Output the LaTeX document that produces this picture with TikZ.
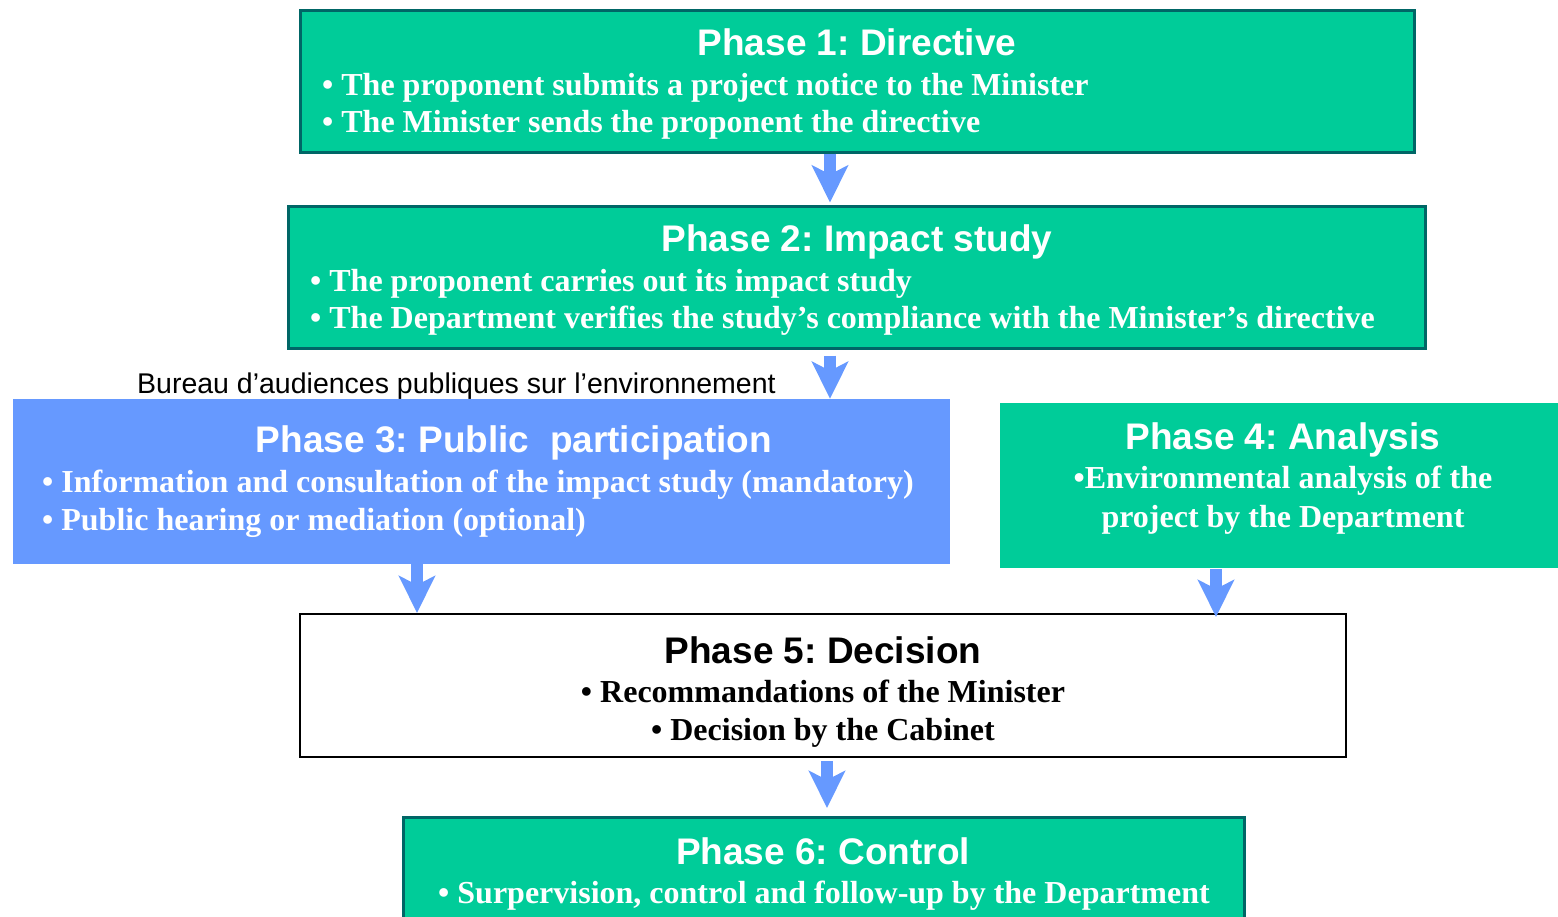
\documentclass[tikz,border=0pt]{standalone}
\usepackage{fontspec}
\setmainfont{Liberation Serif}
\newfontfamily\headfont{Liberation Sans}
\usetikzlibrary{arrows.meta}
\frenchspacing

\definecolor{phasegreen}{RGB}{0,204,153}
\definecolor{phaseblue}{RGB}{102,153,255}
\definecolor{edgeteal}{RGB}{0,102,102}

\tikzset{
	phase/.style={rectangle, inner sep=0pt},
	greenbox/.style={phase, fill=phasegreen, draw=edgeteal, line width=3pt},
	flatgreen/.style={phase, fill=phasegreen},
	bluebox/.style={phase, fill=phaseblue},
	whitebox/.style={phase, fill=white, draw=black, line width=2pt},
	heading/.style={font=\headfont\bfseries\fontsize{37}{40}\selectfont, text=white, inner sep=0pt, anchor=base},
	item/.style={font=\bfseries\fontsize{32}{38}\selectfont, text=white, inner sep=0pt, anchor=base west},
	flow/.style={draw=phaseblue, line width=12.5pt, -{Stealth[length=37pt, width=36pt, inset=9pt]}}
}

\begin{document}
\begin{tikzpicture}[x=1pt, y=-1pt]
		%page size
		\useasboundingbox (0,0) rectangle (1558,916);
		\clip (0,0) rectangle (1558,916);
		
		%phase boxes
		\node [greenbox, minimum width=1114, minimum height=142] (p1) at (857,81) {};
		\node [greenbox, minimum width=1137, minimum height=142] (p2) at (856.5,277) {};
		\node [bluebox, minimum width=937, minimum height=165] (p3) at (481.5,481.5) {};
		\node [flatgreen, minimum width=558, minimum height=165] (p4) at (1279,485.5) {};
		\node [whitebox, minimum width=1046, minimum height=143] (p5) at (823,685.5) {};
		\node [greenbox, minimum width=841, minimum height=142] (p6) at (823.5,888) {};
		
		%phase 1
		\node [heading] (t1) at (857,55) {Phase 1: Directive};
		\node [item] (t1a) at (322,95) {• The proponent submits a project notice to the Minister};
		\node [item] (t1b) at (322,132) {• The Minister sends the proponent the directive};
		
		%phase 2
		\node [heading] (t2) at (857,251) {Phase 2: Impact study};
		\node [item] (t2a) at (310,291) {• The proponent carries out its impact study};
		\node [item] (t2b) at (310,328) {• The Department verifies the study’s compliance with the Minister’s directive};
		
		%bureau
		\node [font=\headfont\fontsize{28.5}{32}\selectfont, inner sep=0pt, anchor=base west] (bape) at (137,393) {Bureau d’audiences publiques sur l’environnement};
		
		%phase 3
		\node [heading] (t3) at (514,452) {Phase 3: Public\ \ participation};
		\node [item] (t3a) at (42,492) {• Information and consultation of the impact study (mandatory)};
		\node [item] (t3b) at (42,530) {• Public hearing or mediation (optional)};
		
		%phase 4
		\node [heading] (t4) at (1283,449) {Phase 4: Analysis};
		\node [item, anchor=base] (t4a) at (1283,488) {•Environmental analysis of the};
		\node [item, anchor=base] (t4b) at (1283,527) {project by the Department};
		
		%phase 5
		\node [heading, text=black] (t5) at (823,663) {Phase 5: Decision};
		\node [item, anchor=base, text=black] (t5a) at (823,702) {• Recommandations of the Minister};
		\node [item, anchor=base, text=black] (t5b) at (823,740) {• Decision by the Cabinet};
		
		%phase 6
		\node [heading] (t6) at (823,864) {Phase 6: Control};
		\node [item, anchor=base] (t6a) at (824,903) {• Surpervision, control and follow-up by the Department};
		
		%arrow columns
		\coordinate (a1) at (830,0);
		\coordinate (a3) at (417,0);
		\coordinate (a4) at (1216,0);
		\coordinate (a5) at (827,0);
		
		%arrows
		\draw [flow, shorten >=2pt] (p1.south -| a1) -- (p2.north -| a1);
		\draw [flow, shorten <=6pt] (p2.south -| a1) -- (p3.north -| a1);
		\draw [flow] (p3.south -| a3) -- (p5.north -| a3);
		\draw [flow, shorten <=1pt, shorten >=-4pt] (p4.south -| a4) -- (p5.north -| a4);
		\draw [flow, shorten <=3pt, shorten >=7.5pt] (p5.south -| a5) -- (p6.north -| a5);
	\end{tikzpicture}
\end{document}
